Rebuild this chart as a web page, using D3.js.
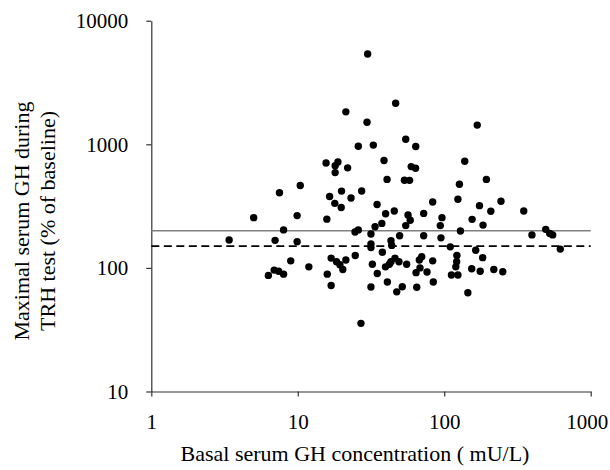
<!DOCTYPE html>
<html>
<head>
<meta charset="utf-8">
<script src="https://cdn.jsdelivr.net/npm/d3@7"></script>
<style>
    body { margin: 0; background: #fff; }
    #chart text { font-family: "Liberation Serif", "Times New Roman", serif; fill: #000; }
</style>
</head>
<body>
<div id="chart"></div>
<script>
// basal serum GH (mU/L)
var basalGH = [
    30, 21.3, 29.7, 46.6, 168, 54.6, 63.9, 25.9, 32.8, 38.8,
    138, 15.6, 18.8, 18, 18, 21.9, 59.5, 63.7, 40.7, 53.5,
    58, 194, 127, 10.4, 7.5, 19.9, 27.3, 16.5, 23.1, 17.9,
    19.8, 34.8, 124, 83.4, 244, 174, 39.8, 45.6, 72.4, 56.6,
    208, 349, 96.5, 5.0, 9.9, 15.8, 37.5, 58.6, 54.6, 94,
    155, 184, 33.7, 129, 493, 525, 550, 397, 49.6, 72.4,
    95, 8.0, 25.9, 24.6, 31.6, 3.4, 7.0, 9.9, 43.3, 43.8,
    31.6, 31.6, 110, 620, 37.8, 164, 183, 122, 121.6, 120,
    70.2, 67.6, 83.4, 46.1, 49.1, 43.3, 42.2, 39.7, 55.4, 68.3,
    64.2, 76.3, 154, 176, 218, 251, 112, 124, 40.9, 84.2,
    51.7, 47.4, 64.9, 145, 24.7, 16.9, 18.4, 19.4, 21.3, 20.3,
    8.95, 11.9, 6.3, 6.9, 7.4, 8.0, 15.9, 32.3, 34.9, 16.9,
    31.6, 27
];

// maximal serum GH during TRH test (% of baseline)
var maxGH = [
    5380, 1830, 1510, 2150, 1430, 1100, 960, 965, 985, 740,
    730, 705, 720, 670, 590, 645, 660, 640, 520, 512,
    511, 520, 475, 464, 406, 418, 419, 378, 368, 333,
    308, 326, 359, 341, 346, 319, 274, 289, 276, 268,
    287, 289, 255, 255, 265, 248, 229, 243, 220, 220,
    247, 222, 215, 199, 205, 190, 185, 185, 182, 182,
    175, 203, 203, 195, 188, 168, 167, 163, 166, 152,
    156, 146, 148, 142, 134, 139, 121, 126, 112, 102,
    123, 116, 114, 120, 112, 112, 107, 102, 107, 100,
    91.5, 92.6, 98.5, 94, 97, 93, 87.6, 87.6, 77, 77,
    70.4, 64, 69.7, 63, 126, 120, 112, 106, 116, 97,
    114, 102, 87, 96, 94, 89, 89, 107, 90, 72,
    70, 35.6
];

var xTicks = [1, 10, 100, 1000];
var yTicks = [10, 100, 1000, 10000];

// reference levels (% of baseline)
var solidLevel = 200;
var dashedLevel = 150;

var xTitle = "Basal serum GH concentration ( mU/L)";
var yTitleLines = ["Maximal serum GH during", "TRH test (% of baseline)"];

function draw() {
    var width = 610;
    var height = 470;
    var tickFont = 21;
    var titleFont = 22;

    var points = [];
    for (var i = 0; i < basalGH.length; i++) {
        points.push({ x: basalGH[i], y: maxGH[i] });
    }

    var svg = d3.select("#chart").append("svg")
        .attr("width", width)
        .attr("height", height);

    // log scales on both axes
    var xScale = d3.scaleLog()
        .domain([1, 1000])
        .range([151.3, 590.7]);

    var yScale = d3.scaleLog()
        .domain([10, 10000])
        .range([391.5, 20.7]);

    var xAxis = d3.axisBottom(xScale)
        .tickValues(xTicks)
        .tickFormat(d3.format("d"))
        .tickSizeInner(5)
        .tickSizeOuter(0)
        .tickPadding(18);

    var yAxis = d3.axisLeft(yScale)
        .tickValues(yTicks)
        .tickFormat(d3.format("d"))
        .tickSizeInner(5)
        .tickSizeOuter(0)
        .tickPadding(18);

    svg.append("g")
        .attr("class", "x axis")
        .attr("transform", "translate(0," + yScale(10) + ")")
        .call(xAxis);

    svg.append("g")
        .attr("class", "y axis")
        .attr("transform", "translate(" + xScale(1) + ",0)")
        .call(yAxis);

    svg.selectAll(".axis path, .axis line")
        .attr("stroke", "#333")
        .attr("stroke-width", 1.2);

    svg.selectAll(".axis text")
        .attr("font-family", "Liberation Serif, Times New Roman, serif")
        .attr("font-size", tickFont)
        .attr("fill", "#000");

    // last x label sits against the right edge, nudge it in
    svg.selectAll(".x.axis .tick text")
        .filter(function (d) { return d === 1000; })
        .attr("dx", -4);

    // reference lines
    svg.append("line")
        .attr("x1", xScale(1))
        .attr("x2", xScale(1000))
        .attr("y1", yScale(solidLevel))
        .attr("y2", yScale(solidLevel))
        .attr("stroke", "#808080")
        .attr("stroke-width", 1.5);

    svg.append("line")
        .attr("x1", xScale(1))
        .attr("x2", xScale(1000))
        .attr("y1", yScale(dashedLevel))
        .attr("y2", yScale(dashedLevel))
        .attr("stroke", "#000")
        .attr("stroke-width", 1.6)
        .attr("stroke-dasharray", "8,4.5");

    // draw dots
    svg.selectAll(".dot")
        .data(points)
        .enter()
        .append("circle")
        .attr("class", "dot")
        .attr("r", 3.7)
        .attr("cx", function (d) { return xScale(d.x); })
        .attr("cy", function (d) { return yScale(d.y); })
        .style("fill", "#000");

    // axis titles
    svg.append("text")
        .attr("x", 355)
        .attr("y", 461)
        .attr("text-anchor", "middle")
        .attr("font-size", titleFont)
        .text(xTitle);

    var yTitle = svg.append("text")
        .attr("transform", "translate(0,221) rotate(-90)")
        .attr("text-anchor", "middle")
        .attr("font-size", titleFont);

    yTitle.selectAll("tspan")
        .data(yTitleLines)
        .enter()
        .append("tspan")
        .attr("x", 0)
        .attr("y", function (d, i) { return 29 + i * 26; })
        .text(function (d) { return d; });
}

draw();
</script>
</body>
</html>
